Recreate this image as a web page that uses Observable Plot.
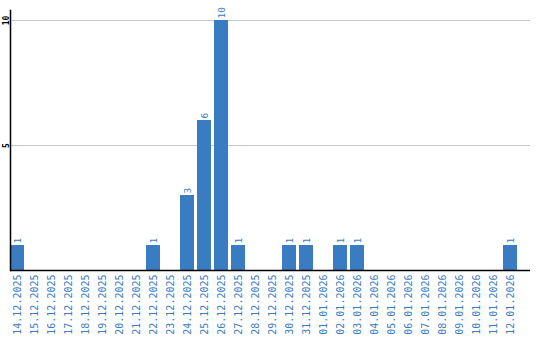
<!DOCTYPE html>
<html>
<head>
<meta charset="utf-8">
<script src="https://cdn.jsdelivr.net/npm/d3@7"></script>
<script src="https://cdn.jsdelivr.net/npm/@observablehq/plot@0.6"></script>
<style>
  html, body { margin: 0; padding: 0; background: #fff; }
</style>
</head>
<body>
<div id="chart"></div>
<script>
const dates = [
  "14.12.2025","15.12.2025","16.12.2025","17.12.2025","18.12.2025","19.12.2025",
  "20.12.2025","21.12.2025","22.12.2025","23.12.2025","24.12.2025","25.12.2025",
  "26.12.2025","27.12.2025","28.12.2025","29.12.2025","30.12.2025","31.12.2025",
  "01.01.2026","02.01.2026","03.01.2026","04.01.2026","05.01.2026","06.01.2026",
  "07.01.2026","08.01.2026","09.01.2026","10.01.2026","11.01.2026","12.01.2026"
];
const counts = [1,0,0,0,0,0,0,0,1,0,3,6,10,1,0,0,1,1,0,1,1,0,0,0,0,0,0,0,0,1];
const yTicks = [5, 10];

const data = dates.map((d, i) => ({date: d, count: counts[i]}));
const blue = "#3a7cc2";
const mono = "DejaVu Sans Mono";

const chart = Plot.plot({
  width: 540,
  height: 340,
  marginLeft: 10,
  marginRight: 10,
  marginTop: 10,
  marginBottom: 70,
  style: {background: "#fff"},
  x: {domain: dates, range: [10, 517], paddingInner: 0.18, paddingOuter: 0, axis: null, label: null},
  y: {domain: [0, 10.4], axis: null, label: null},
  marks: [
    Plot.ruleY(yTicks, {stroke: "#c8c8c8", strokeWidth: 1}),
    Plot.barY(data, {x: "date", y: "count", fill: blue}),
    Plot.text(data.filter(d => d.count > 0), {
      x: "date", y: "count", text: d => String(d.count),
      rotate: -90, textAnchor: "start", lineAnchor: "middle",
      dy: -2, fill: blue, fontSize: 9.5, fontFamily: mono
    }),
    Plot.axisX({
      tickRotate: -90, tickSize: 0, tickPadding: 4, label: null,
      fill: blue, fontSize: 10, fontFamily: mono
    }),
    Plot.text(yTicks, {
      y: d => d, text: d => String(d), frameAnchor: "left",
      rotate: -90, textAnchor: "middle", lineAnchor: "bottom",
      dx: -2, fill: "#000", fontSize: 8, fontWeight: "bold", fontFamily: mono
    }),
    Plot.frame({anchor: "left", stroke: "#000", strokeWidth: 1.5}),
    Plot.ruleY([0], {stroke: "#000", strokeWidth: 1.5})
  ]
});
document.getElementById("chart").append(chart);
</script>
</body>
</html>
